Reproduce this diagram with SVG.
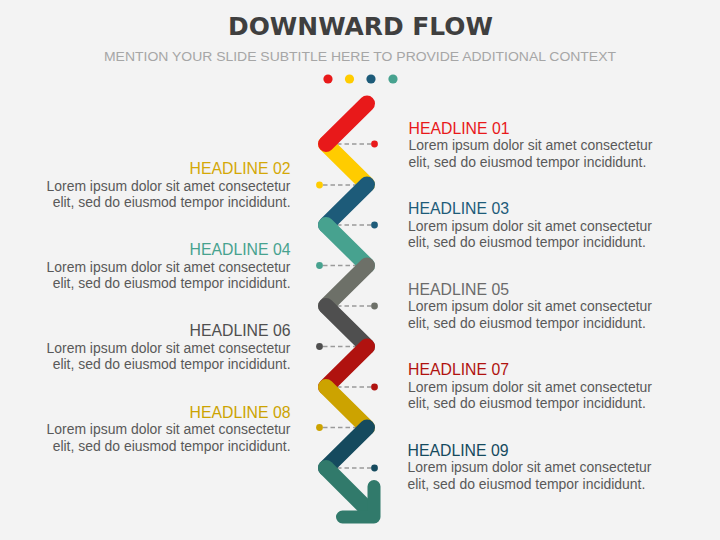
<svg xmlns="http://www.w3.org/2000/svg" width="720" height="540" viewBox="0 0 720 540">
<style>
.title{font-family:"DejaVu Sans","Liberation Sans",sans-serif;font-weight:bold;font-size:25px;fill:#3F3F3F}
.sub{font-family:"Liberation Sans",Arial,sans-serif;font-size:13.2px;fill:#A6A6A6}
.hd{font-family:"Liberation Sans",Arial,sans-serif;font-size:15.8px}
.bd{font-family:"Liberation Sans",Arial,sans-serif;font-size:13.95px;fill:#595959}
.r{text-anchor:end}
.seg{fill:none;stroke-width:16;stroke-linecap:round}
.lead{stroke:#9A9A9A;stroke-width:1.3;stroke-dasharray:4.5 3;fill:none}
</style>
<rect width="720" height="540" fill="#F3F3F3"/>
<text class="title" x="360.5" y="35" text-anchor="middle" textLength="265" lengthAdjust="spacingAndGlyphs">DOWNWARD FLOW</text>
<text class="sub" x="360" y="61" text-anchor="middle" textLength="512" lengthAdjust="spacingAndGlyphs">MENTION YOUR SLIDE SUBTITLE HERE TO PROVIDE ADDITIONAL CONTEXT</text>
<g id="top-dots">
<circle cx="328" cy="79" r="4.6" fill="#E8191A"/>
<circle cx="349.5" cy="79" r="4.6" fill="#FFCC00"/>
<circle cx="371" cy="79" r="4.6" fill="#1D5B79"/>
<circle cx="393" cy="79" r="4.6" fill="#47A28F"/>
</g>
<g id="connectors">
<line class="lead" x1="337" y1="144" x2="371" y2="144"/>
<line class="lead" x1="323" y1="185" x2="357" y2="185"/>
<line class="lead" x1="337" y1="225" x2="371" y2="225"/>
<line class="lead" x1="323" y1="265.5" x2="357" y2="265.5"/>
<line class="lead" x1="337" y1="306" x2="371" y2="306"/>
<line class="lead" x1="323" y1="346.5" x2="357" y2="346.5"/>
<line class="lead" x1="337" y1="387" x2="371" y2="387"/>
<line class="lead" x1="323" y1="427.5" x2="357" y2="427.5"/>
<line class="lead" x1="337" y1="468" x2="371" y2="468"/>
</g>
<g id="flow">
<line class="seg" stroke="#FFCC00" x1="326" y1="144" x2="367" y2="184.5"/>
<line class="seg" stroke="#E8191A" x1="367" y1="103.5" x2="326" y2="144"/>
<line class="seg" stroke="#1D5B79" x1="367" y1="184.5" x2="326" y2="225"/>
<line class="seg" stroke="#47A28F" x1="326" y1="225" x2="367" y2="265.5"/>
<line class="seg" stroke="#6D7068" x1="367" y1="265.5" x2="326" y2="306"/>
<line class="seg" stroke="#4F4F4F" x1="326" y1="306" x2="367" y2="346.5"/>
<line class="seg" stroke="#B0120F" x1="367" y1="346.5" x2="326" y2="387"/>
<line class="seg" stroke="#CCA300" x1="326" y1="387" x2="367" y2="427.5"/>
<line class="seg" stroke="#154A5E" x1="367" y1="427.5" x2="326" y2="468"/>
<line class="seg" stroke="#317A6B" x1="326" y1="468" x2="368" y2="510"/>
<polyline points="374,486.5 374,517 342.5,517" fill="none" stroke="#317A6B" stroke-width="13" stroke-linecap="round" stroke-linejoin="round"/>
</g>
<g id="node01">
<circle cx="374.5" cy="144" r="3.4" fill="#E8191A"/>
<text class="hd" x="408.5" y="133.5" fill="#E8191A">HEADLINE 01</text>
<text class="bd" x="408.5" y="150">Lorem ipsum dolor sit amet consectetur</text>
<text class="bd" x="408.5" y="166.5">elit, sed do eiusmod tempor incididunt.</text>
</g>
<g id="node02">
<circle cx="319.5" cy="185" r="3.4" fill="#FFCC00"/>
<text class="hd r" x="290.5" y="174" fill="#D4A806">HEADLINE 02</text>
<text class="bd r" x="290.5" y="190.5">Lorem ipsum dolor sit amet consectetur</text>
<text class="bd r" x="290.5" y="207">elit, sed do eiusmod tempor incididunt.</text>
</g>
<g id="node03">
<circle cx="374.5" cy="225" r="3.4" fill="#1D5B79"/>
<text class="hd" x="408" y="214" fill="#1D5B79">HEADLINE 03</text>
<text class="bd" x="408" y="230.5">Lorem ipsum dolor sit amet consectetur</text>
<text class="bd" x="408" y="247">elit, sed do eiusmod tempor incididunt.</text>
</g>
<g id="node04">
<circle cx="319.5" cy="265.5" r="3.4" fill="#47A28F"/>
<text class="hd r" x="290.5" y="255" fill="#47A28F">HEADLINE 04</text>
<text class="bd r" x="290.5" y="271.5">Lorem ipsum dolor sit amet consectetur</text>
<text class="bd r" x="290.5" y="288">elit, sed do eiusmod tempor incididunt.</text>
</g>
<g id="node05">
<circle cx="374.5" cy="306" r="3.4" fill="#6D7068"/>
<text class="hd" x="408" y="294.5" fill="#6B6B6B">HEADLINE 05</text>
<text class="bd" x="408" y="311">Lorem ipsum dolor sit amet consectetur</text>
<text class="bd" x="408" y="327.5">elit, sed do eiusmod tempor incididunt.</text>
</g>
<g id="node06">
<circle cx="319.5" cy="346.5" r="3.4" fill="#4F4F4F"/>
<text class="hd r" x="290.5" y="336" fill="#4F4F4F">HEADLINE 06</text>
<text class="bd r" x="290.5" y="352.5">Lorem ipsum dolor sit amet consectetur</text>
<text class="bd r" x="290.5" y="369">elit, sed do eiusmod tempor incididunt.</text>
</g>
<g id="node07">
<circle cx="374.5" cy="387" r="3.4" fill="#B0120F"/>
<text class="hd" x="408" y="375" fill="#B0120F">HEADLINE 07</text>
<text class="bd" x="408" y="391.5">Lorem ipsum dolor sit amet consectetur</text>
<text class="bd" x="408" y="408">elit, sed do eiusmod tempor incididunt.</text>
</g>
<g id="node08">
<circle cx="319.5" cy="427.5" r="3.4" fill="#CCA300"/>
<text class="hd r" x="290.5" y="417.5" fill="#CCA300">HEADLINE 08</text>
<text class="bd r" x="290.5" y="434">Lorem ipsum dolor sit amet consectetur</text>
<text class="bd r" x="290.5" y="450.5">elit, sed do eiusmod tempor incididunt.</text>
</g>
<g id="node09">
<circle cx="374.5" cy="468" r="3.4" fill="#154A5E"/>
<text class="hd" x="407.5" y="455.5" fill="#154A5E">HEADLINE 09</text>
<text class="bd" x="407.5" y="472">Lorem ipsum dolor sit amet consectetur</text>
<text class="bd" x="407.5" y="488.5">elit, sed do eiusmod tempor incididunt.</text>
</g>
</svg>
